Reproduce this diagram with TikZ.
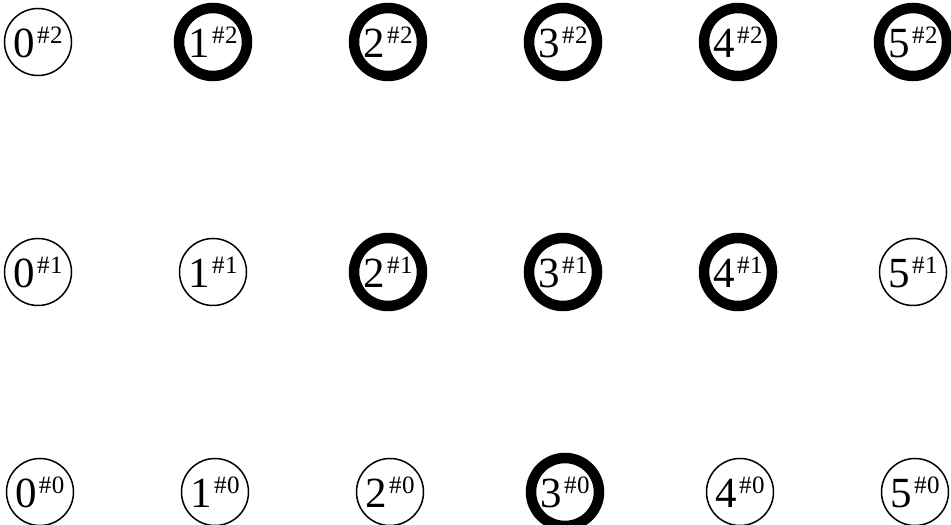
\documentclass[tikz,border=0pt]{standalone}
\usepackage{fontspec}
\setmainfont{Liberation Serif}
\usetikzlibrary{positioning}
\newcommand{\lvl}[2]{#1\kern2pt\raisebox{14pt}{\fontsize{25}{25}\selectfont\#\kern0.5pt#2}}

\begin{document}
\begin{tikzpicture}[x=1pt, y=1pt, on grid, node distance=175pt,
  font=\fontsize{43}{48}\selectfont,
  idle/.style={draw,circle,line width=1.5pt,minimum size=67pt,inner sep=0pt},
  held/.style={draw,circle,line width=10.5pt,minimum size=68pt,inner sep=0pt}]
  \useasboundingbox (0,0) rectangle (951,525);
  % level 2
  \node[idle] (s02) at (38,483) {\lvl{0}{2}};
  \node[held,right=of s02] (s12) {\lvl{1}{2}};
  \node[held,right=of s12] (s22) {\lvl{2}{2}};
  \node[held,right=of s22] (s32) {\lvl{3}{2}};
  \node[held,right=of s32] (s42) {\lvl{4}{2}};
  \node[held,right=of s42] (s52) {\lvl{5}{2}};
  % level 1
  \node[idle] (s01) at (38,253) {\lvl{0}{1}};
  \node[idle,right=of s01] (s11) {\lvl{1}{1}};
  \node[held,right=of s11] (s21) {\lvl{2}{1}};
  \node[held,right=of s21] (s31) {\lvl{3}{1}};
  \node[held,right=of s31] (s41) {\lvl{4}{1}};
  \node[idle,right=of s41] (s51) {\lvl{5}{1}};
  % level 0
  \node[idle] (s00) at (40,33) {\lvl{0}{0}};
  \node[idle,right=of s00] (s10) {\lvl{1}{0}};
  \node[idle,right=of s10] (s20) {\lvl{2}{0}};
  \node[held,right=of s20] (s30) {\lvl{3}{0}};
  \node[idle,right=of s30] (s40) {\lvl{4}{0}};
  \node[idle,right=of s40] (s50) {\lvl{5}{0}};
\end{tikzpicture}
\end{document}
